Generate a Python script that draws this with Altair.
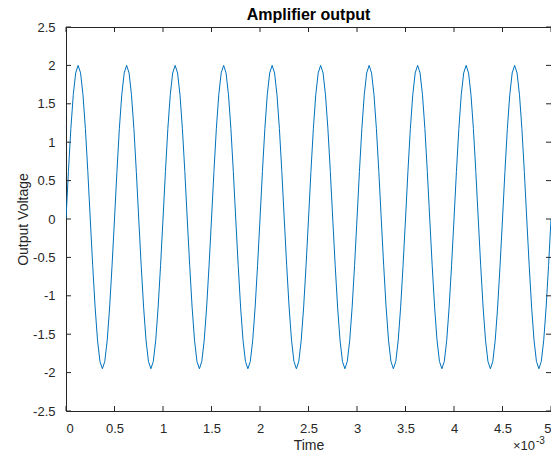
import altair as alt
import pandas as pd

# Time in units of 1e-3 s
time_ms = [
    0, 0.025, 0.05, 0.075, 0.1, 0.125, 0.15, 0.175, 0.2, 0.225, 0.25, 0.275, 0.3, 0.325, 0.35, 0.375, 0.4, 0.425, 0.45, 0.475,
    0.5, 0.525, 0.55, 0.575, 0.6, 0.625, 0.65, 0.675, 0.7, 0.725, 0.75, 0.775, 0.8, 0.825, 0.85, 0.875, 0.9, 0.925, 0.95, 0.975,
    1.0, 1.025, 1.05, 1.075, 1.1, 1.125, 1.15, 1.175, 1.2, 1.225, 1.25, 1.275, 1.3, 1.325, 1.35, 1.375, 1.4, 1.425, 1.45, 1.475,
    1.5, 1.525, 1.55, 1.575, 1.6, 1.625, 1.65, 1.675, 1.7, 1.725, 1.75, 1.775, 1.8, 1.825, 1.85, 1.875, 1.9, 1.925, 1.95, 1.975,
    2.0, 2.025, 2.05, 2.075, 2.1, 2.125, 2.15, 2.175, 2.2, 2.225, 2.25, 2.275, 2.3, 2.325, 2.35, 2.375, 2.4, 2.425, 2.45, 2.475,
    2.5, 2.525, 2.55, 2.575, 2.6, 2.625, 2.65, 2.675, 2.7, 2.725, 2.75, 2.775, 2.8, 2.825, 2.85, 2.875, 2.9, 2.925, 2.95, 2.975,
    3.0, 3.025, 3.05, 3.075, 3.1, 3.125, 3.15, 3.175, 3.2, 3.225, 3.25, 3.275, 3.3, 3.325, 3.35, 3.375, 3.4, 3.425, 3.45, 3.475,
    3.5, 3.525, 3.55, 3.575, 3.6, 3.625, 3.65, 3.675, 3.7, 3.725, 3.75, 3.775, 3.8, 3.825, 3.85, 3.875, 3.9, 3.925, 3.95, 3.975,
    4.0, 4.025, 4.05, 4.075, 4.1, 4.125, 4.15, 4.175, 4.2, 4.225, 4.25, 4.275, 4.3, 4.325, 4.35, 4.375, 4.4, 4.425, 4.45, 4.475,
    4.5, 4.525, 4.55, 4.575, 4.6, 4.625, 4.65, 4.675, 4.7, 4.725, 4.75, 4.775, 4.8, 4.825, 4.85, 4.875, 4.9, 4.925, 4.95, 4.975,
    5.0,
]

voltage = [
    0, 0.618, 1.176, 1.618, 1.902, 2.0, 1.902, 1.618, 1.176, 0.618, 0, -0.603, -1.147, -1.578, -1.854, -1.95, -1.854, -1.578, -1.147, -0.603,
    0, 0.618, 1.176, 1.618, 1.902, 2.0, 1.902, 1.618, 1.176, 0.618, 0, -0.603, -1.147, -1.578, -1.854, -1.95, -1.854, -1.578, -1.147, -0.603,
    0, 0.618, 1.176, 1.618, 1.902, 2.0, 1.902, 1.618, 1.176, 0.618, 0, -0.603, -1.147, -1.578, -1.854, -1.95, -1.854, -1.578, -1.147, -0.603,
    0, 0.618, 1.176, 1.618, 1.902, 2.0, 1.902, 1.618, 1.176, 0.618, 0, -0.603, -1.147, -1.578, -1.854, -1.95, -1.854, -1.578, -1.147, -0.603,
    0, 0.618, 1.176, 1.618, 1.902, 2.0, 1.902, 1.618, 1.176, 0.618, 0, -0.603, -1.147, -1.578, -1.854, -1.95, -1.854, -1.578, -1.147, -0.603,
    0, 0.618, 1.176, 1.618, 1.902, 2.0, 1.902, 1.618, 1.176, 0.618, 0, -0.603, -1.147, -1.578, -1.854, -1.95, -1.854, -1.578, -1.147, -0.603,
    0, 0.618, 1.176, 1.618, 1.902, 2.0, 1.902, 1.618, 1.176, 0.618, 0, -0.603, -1.147, -1.578, -1.854, -1.95, -1.854, -1.578, -1.147, -0.603,
    0, 0.618, 1.176, 1.618, 1.902, 2.0, 1.902, 1.618, 1.176, 0.618, 0, -0.603, -1.147, -1.578, -1.854, -1.95, -1.854, -1.578, -1.147, -0.603,
    0, 0.618, 1.176, 1.618, 1.902, 2.0, 1.902, 1.618, 1.176, 0.618, 0, -0.603, -1.147, -1.578, -1.854, -1.95, -1.854, -1.578, -1.147, -0.603,
    0, 0.618, 1.176, 1.618, 1.902, 2.0, 1.902, 1.618, 1.176, 0.618, 0, -0.603, -1.147, -1.578, -1.854, -1.95, -1.854, -1.578, -1.147, -0.603,
    0,
]

x_ticks = [0, 0.5, 1, 1.5, 2, 2.5, 3, 3.5, 4, 4.5, 5]
y_ticks = [-2.5, -2, -1.5, -1, -0.5, 0, 0.5, 1, 1.5, 2, 2.5]
chart_title = "Amplifier output"

W, H = 485, 384
AX = "#262626"
FONT = "Liberation Sans"

df = pd.DataFrame({"t": time_ms, "v": voltage})
xt = pd.DataFrame({"t": x_ticks})
yt = pd.DataFrame({"v": y_ticks})

xscale = alt.Scale(domain=[0, 5], nice=False, zero=False)
yscale = alt.Scale(domain=[-2.5, 2.5], nice=False, zero=False)

axis_common = dict(ticks=False, tickSize=0, labelPadding=11, domain=False, grid=False,
                   labelOverlap=False, labelFont=FONT, titleFont=FONT, labelFontSize=13,
                   titleFontSize=14, labelColor=AX, titleColor=AX, titleFontWeight="normal",
                   labelExpr="'' + datum.value", titleBaseline="middle", titleAlign="center")

x_axis = alt.Axis(title="Time", values=x_ticks, titleX=W / 2, titleY=34, **axis_common)
y_axis = alt.Axis(title="Output Voltage", values=y_ticks, titleAngle=270, titleX=-43,
                  titleY=H / 2, **axis_common)

X = alt.X("t:Q", scale=xscale, axis=x_axis)
Y = alt.Y("v:Q", scale=yscale, axis=y_axis)

line = alt.Chart(df).mark_line(color="#0072BD", strokeWidth=1, clip=True).encode(x=X, y=Y)

tick_style = dict(color=AX, strokeWidth=1)
bottom_ticks = alt.Chart(xt).mark_rule(**tick_style).encode(
    x=X, y=alt.value(H), y2=alt.value(H - 5))
top_ticks = alt.Chart(xt).mark_rule(**tick_style).encode(
    x=X, y=alt.value(0), y2=alt.value(5))
left_ticks = alt.Chart(yt).mark_rule(**tick_style).encode(
    y=Y, x=alt.value(0), x2=alt.value(5))
right_ticks = alt.Chart(yt).mark_rule(**tick_style).encode(
    y=Y, x=alt.value(W), x2=alt.value(W - 5))

title_mark = alt.Chart(pd.DataFrame({"s": [chart_title]})).mark_text(
    align="center", baseline="alphabetic", fontSize=16, fontWeight="bold", font=FONT,
    color="#000000"
).encode(text="s:N", x=alt.value(W / 2), y=alt.value(-7))

exp_base = alt.Chart(pd.DataFrame({"s": ["\u00d710"]})).mark_text(
    align="left", baseline="alphabetic", fontSize=13, font=FONT, color=AX
).encode(text="s:N", x=alt.value(447), y=alt.value(423))
exp_pow = alt.Chart(pd.DataFrame({"s": ["-3"]})).mark_text(
    align="left", baseline="alphabetic", fontSize=10, font=FONT, color=AX
).encode(text="s:N", x=alt.value(470), y=alt.value(417))

chart = alt.layer(
    line, bottom_ticks, top_ticks, left_ticks, right_ticks, title_mark, exp_base, exp_pow
).properties(
    width=W, height=H,
    background="white",
    autosize=alt.AutoSizeParams(type="none"),
    padding={"left": 58, "top": 19, "right": 0, "bottom": 41},
).configure_view(
    stroke=AX, strokeWidth=1
)

chart.save("out.html", embed_options={"renderer": "svg", "actions": False})
